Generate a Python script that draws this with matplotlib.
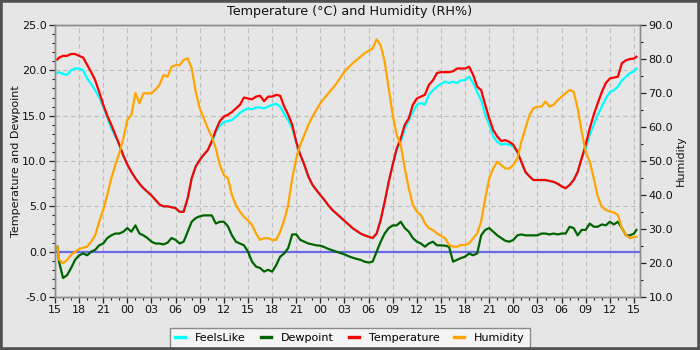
import matplotlib
matplotlib.use("Agg")
import matplotlib.pyplot as plt
from matplotlib.patches import Rectangle
from matplotlib.lines import Line2D
from matplotlib.ticker import MultipleLocator, FormatStrFormatter

# hours since 15:00 on day 1
hours = [0.3] + [0.5 * k for k in range(1, 145)] + [72.3]

x_tick_labels = ['15', '18', '21', '00', '03', '06', '09', '12'] * 3 + ['15']

temperature = [21.2,
    21.4, 21.6, 21.6, 21.8, 21.8, 21.6, 21.4, 20.6, 19.8, 18.9,
    17.6, 16.2, 15.0, 14.0, 12.9, 11.8, 10.6, 9.6, 8.8, 8.1,
    7.5, 7.0, 6.6, 6.2, 5.7, 5.2, 5.0, 5.0, 4.9, 4.8,
    4.4, 4.4, 5.9, 8.1, 9.4, 10.1, 10.7, 11.2, 12.2, 13.4,
    14.4, 14.9, 15.1, 15.4, 15.8, 16.2, 17.0, 16.9, 16.8, 17.1,
    17.2, 16.6, 17.1, 17.1, 17.3, 17.2, 16.0, 15.1, 14.0, 12.1,
    10.7, 9.6, 8.3, 7.4, 6.8, 6.25, 5.7, 5.1, 4.6, 4.2,
    3.8, 3.4, 3.0, 2.6, 2.3, 2.0, 1.8, 1.65, 1.5, 2.0,
    3.5, 5.5, 7.7, 9.6, 11.4, 12.5, 14.0, 14.7, 16.2, 16.9,
    17.1, 17.3, 18.4, 18.9, 19.7, 19.8, 19.8, 19.8, 19.9, 20.2,
    20.2, 20.2, 20.4, 19.5, 18.2, 17.8, 16.2, 14.7, 13.4, 12.7,
    12.2, 12.3, 12.1, 11.8, 11.0, 9.9, 8.8, 8.3, 7.9, 7.9,
    7.9, 7.9, 7.8, 7.7, 7.5, 7.2, 7.0, 7.35, 7.9, 8.8,
    10.3, 11.8, 13.6, 15.1, 16.4, 17.6, 18.6, 19.1, 19.2, 19.3,
    20.8, 21.1, 21.25, 21.3,
    21.5]

feelslike = [19.7,
    19.8, 19.6, 19.5, 20.0, 20.2, 20.2, 20.0, 19.1, 18.5, 17.8,
    17.0, 16.0, 14.8, 13.6, 12.7, 11.8, 10.6, 9.6, 8.8, 8.1,
    7.5, 7.0, 6.6, 6.2, 5.7, 5.2, 5.0, 5.0, 4.9, 4.8,
    4.4, 4.4, 5.9, 8.1, 9.4, 10.1, 10.7, 11.2, 12.0, 13.2,
    13.9, 14.3, 14.4, 14.5, 14.9, 15.3, 15.6, 15.8, 15.7, 15.9,
    15.9, 15.8, 16.0, 16.2, 16.3, 16.0, 15.2, 14.5, 13.6, 12.1,
    10.7, 9.6, 8.3, 7.4, 6.8, 6.25, 5.7, 5.1, 4.6, 4.2,
    3.8, 3.4, 3.0, 2.6, 2.3, 2.0, 1.8, 1.65, 1.5, 2.0,
    3.5, 5.5, 7.7, 9.6, 11.2, 12.1, 13.6, 14.5, 15.4, 16.2,
    16.4, 16.2, 17.3, 17.8, 18.2, 18.5, 18.75, 18.6, 18.75, 18.6,
    18.9, 18.9, 19.3, 18.6, 17.6, 16.7, 15.1, 14.0, 12.7, 12.1,
    11.8, 11.9, 11.8, 11.6, 11.0, 9.9, 8.8, 8.3, 7.9, 7.9,
    7.9, 7.9, 7.8, 7.7, 7.5, 7.2, 7.0, 7.35, 7.9, 8.8,
    10.3, 11.4, 12.9, 14.0, 15.1, 16.0, 16.9, 17.6, 17.8, 18.2,
    18.9, 19.3, 19.7, 19.85,
    20.2]

humidity = [24.8,
    21.0, 19.9, 20.9, 22.4, 23.3, 24.1, 24.5, 24.8, 26.3, 28.2,
    32.2, 35.6, 40.0, 44.9, 48.8, 52.3, 56.7, 62.1, 63.5, 70.0,
    67.0, 69.9, 69.9, 69.9, 71.0, 72.4, 75.3, 74.8, 77.7, 78.2,
    78.2, 79.7, 80.2, 77.3, 70.4, 65.5, 62.5, 59.6, 57.2, 53.7,
    48.8, 45.9, 44.9, 40.0, 37.0, 35.1, 33.6, 32.5, 31.2, 28.7,
    26.8, 27.3, 27.3, 26.8, 26.8, 29.2, 32.6, 37.1, 44.9, 50.8,
    54.7, 57.6, 60.6, 63.0, 65.0, 67.0, 68.5, 69.9, 71.3, 72.8,
    74.5, 76.3, 77.5, 78.7, 79.7, 80.7, 81.7, 82.4, 83.1, 85.8,
    84.0, 79.2, 71.4, 63.5, 57.6, 54.7, 47.8, 42.0, 37.1, 35.1,
    34.1, 31.7, 30.2, 29.7, 28.7, 28.0, 27.3, 25.3, 24.8, 24.8,
    25.3, 25.3, 25.8, 27.3, 28.7, 32.2, 39.0, 44.9, 47.8, 49.8,
    48.8, 47.8, 47.8, 48.8, 50.8, 55.7, 59.6, 63.5, 65.5, 66.0,
    66.0, 67.5, 66.0, 66.5, 67.9, 68.9, 69.9, 70.9, 70.4, 65.5,
    58.6, 52.7, 49.8, 44.9, 39.5, 36.6, 35.6, 35.1, 34.9, 34.1,
    30.2, 28.2, 27.3, 27.7,
    27.7]

dewpoint = [0.55,
    -1.1, -2.9, -2.6, -1.8, -0.9, -0.4, -0.2, -0.4, 0.0, 0.2,
    0.7, 0.9, 1.5, 1.8, 2.0, 2.0, 2.2, 2.6, 2.2, 2.9,
    2.0, 1.8, 1.5, 1.1, 0.9, 0.9, 0.8, 1.0, 1.5, 1.3,
    0.9, 1.1, 2.2, 3.3, 3.7, 3.9, 4.0, 4.0, 4.0, 3.1,
    3.3, 3.3, 2.8, 1.8, 1.1, 0.9, 0.7, 0.0, -1.1, -1.65,
    -1.8, -2.2, -2.0, -2.2, -1.5, -0.55, -0.2, 0.4, 1.9, 1.9,
    1.3, 1.1, 0.9, 0.8, 0.7, 0.66, 0.5, 0.3, 0.15, 0.0,
    -0.15, -0.3, -0.5, -0.66, -0.8, -0.9, -1.1, -1.2, -1.1, 0.0,
    1.1, 2.0, 2.6, 2.9, 2.9, 3.3, 2.6, 2.2, 1.5, 1.1,
    0.9, 0.55, 0.9, 1.1, 0.7, 0.7, 0.66, 0.55, -1.1, -0.9,
    -0.7, -0.55, -0.2, -0.4, -0.2, 1.8, 2.4, 2.6, 2.2, 1.8,
    1.5, 1.2, 1.1, 1.3, 1.8, 1.9, 1.8, 1.8, 1.8, 1.8,
    2.0, 2.0, 1.9, 2.0, 1.9, 2.0, 2.0, 2.75, 2.6, 1.8,
    2.4, 2.4, 3.1, 2.75, 2.75, 3.0, 2.9, 3.3, 3.0, 3.3,
    2.6, 1.8, 1.8, 2.0,
    2.4]

series_names = ['FeelsLike', 'Dewpoint', 'Temperature', 'Humidity']
series_colors = ['#00ffff', '#006400', '#ff0000', '#ffa500']

BG = '#e6e6e6'
fig = plt.figure(figsize=(7, 3.5), dpi=100, facecolor=BG)
ax = fig.add_axes([55 / 700, 1 - 297 / 350, (640 - 55) / 700, (297 - 25) / 350])
ax.set_facecolor(BG)

ax.axhline(0, color='#6a6ae6', lw=1.6, zorder=1.5)
ax.plot(hours, feelslike, color=series_colors[0], lw=1.6, zorder=2)
ax.plot(hours, dewpoint, color=series_colors[1], lw=1.6, zorder=3)
ax.plot(hours, temperature, color=series_colors[2], lw=1.6, zorder=4)

ax.set_xlim(0, 72.75)
ax.set_ylim(-5, 25)
ax.set_xticks([3 * i for i in range(25)])
ax.set_xticklabels(x_tick_labels)
ax.xaxis.set_minor_locator(MultipleLocator(1))
ax.yaxis.set_major_locator(MultipleLocator(5))
ax.yaxis.set_minor_locator(MultipleLocator(1))
ax.yaxis.set_major_formatter(FormatStrFormatter('%.1f'))
ax.grid(True, which='major', color='#bcbcbc', linestyle=(0, (4, 3)), lw=0.8, zorder=0)
ax.set_axisbelow(True)

ax2 = ax.twinx()
ax2.plot(hours, humidity, color=series_colors[3], lw=1.6, zorder=5)
ax2.set_ylim(10, 90)
ax2.yaxis.set_major_locator(MultipleLocator(10))
ax2.yaxis.set_minor_locator(MultipleLocator(5))
ax2.yaxis.set_major_formatter(FormatStrFormatter('%.1f'))

for a in (ax, ax2):
    for s in a.spines.values():
        s.set_color('#8c8c8c')
        s.set_linewidth(1.0)
    a.tick_params(which='major', length=4, width=0.9, color='#222222', labelsize=8,
                  labelcolor='#111111', pad=2)
    a.tick_params(which='minor', length=2.5, width=0.8, color='#222222')

fig.text(0.5, 1 - 12 / 350, 'Temperature (°C) and Humidity (RH%)', ha='center',
         va='center', fontsize=9.2, color='#111111')
fig.text(16.5 / 700, 1 - 161 / 350, 'Temperature and Dewpoint', rotation=90,
         ha='center', va='center', fontsize=8, color='#111111')
fig.text(681 / 700, 1 - 161 / 350, 'Humidity', rotation=90,
         ha='center', va='center', fontsize=8, color='#111111')

handles = [Line2D([], [], color=c, lw=2.4) for c in series_colors]
leg = fig.legend(handles, series_names, loc='lower center', bbox_to_anchor=(0.5, 0.006),
                 ncol=4, fontsize=8, frameon=True, fancybox=False, edgecolor='#8a8a8a',
                 facecolor='#f4f4f4', framealpha=1, handlelength=0.9, handletextpad=0.9,
                 columnspacing=1.35, borderpad=0.45, borderaxespad=0)
leg.get_frame().set_linewidth(1.0)

fig.patches.append(Rectangle((0, 0), 1, 1, transform=fig.transFigure, fill=False,
                             edgecolor='#505050', lw=4, zorder=10))

fig.savefig('out.png', dpi=100, facecolor=BG)
